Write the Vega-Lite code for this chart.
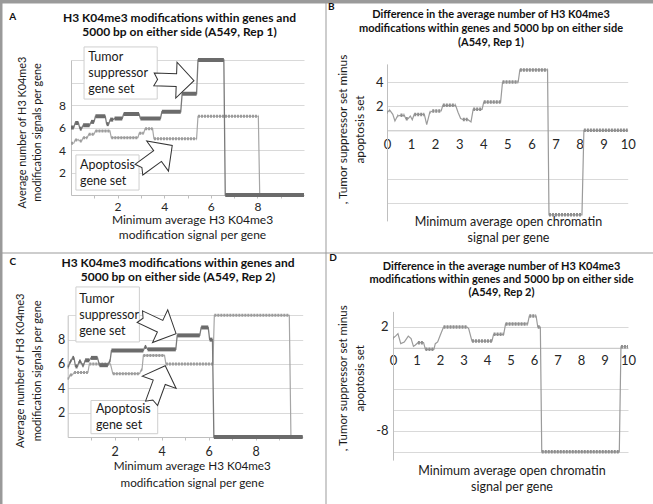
{
  "$schema": "https://vega.github.io/schema/vega-lite/v6.json",
  "background": "#9a9a9a",
  "padding": {"left": 1, "top": 1, "right": 1, "bottom": 1},
  "config": {
    "font": "Lato",
    "view": {"fill": "white", "stroke": "transparent"},
    "axis": {"labelFont": "Lato", "titleFont": "Lato", "labelColor": "#262626", "titleColor": "#1a1a1a", "titleFontWeight": "normal", "domainColor": "#bfbfbf", "gridColor": "#d9d9d9", "tickColor": "#bfbfbf", "labelFlush": false, "labelOverlap": false},
    "title": {"font": "Lato", "fontSize": 12, "fontWeight": "bold", "color": "#111111", "anchor": "middle", "frame": "group", "lineHeight": 14}
  },
  "datasets": {
    "aTum": [{"s":0,"e":0.12,"v":6.0},{"s":0.18,"e":0.32,"v":6.4},{"s":0.38,"e":0.46,"v":5.9},{"s":0.52,"e":0.8,"v":6.2},{"s":0.86,"e":0.99,"v":6.5},{"s":1.05,"e":1.47,"v":7.0},{"s":1.53,"e":1.62,"v":6.3},{"s":1.68,"e":1.81,"v":6.7},{"s":1.87,"e":2.2,"v":6.8},{"s":2.26,"e":2.92,"v":7.2},{"s":2.98,"e":3.84,"v":6.8},{"s":3.9,"e":4.71,"v":7.4},{"s":4.77,"e":5.39,"v":9.0},{"s":5.45,"e":6.56,"v":12.0},{"s":6.62,"e":10,"v":0}],
    "aApo": [{"s":0,"e":0.12,"v":4.6},{"s":0.18,"e":0.32,"v":4.9},{"s":0.38,"e":0.46,"v":4.8},{"s":0.52,"e":0.7,"v":5.1},{"s":0.76,"e":0.99,"v":5.4},{"s":1.05,"e":1.67,"v":5.7},{"s":1.73,"e":2.87,"v":5.1},{"s":2.93,"e":3.12,"v":5.5},{"s":3.18,"e":3.5,"v":5.9},{"s":3.56,"e":5.39,"v":5.0},{"s":5.45,"e":8.04,"v":7.0},{"s":8.1,"e":10,"v":0}],
    "bDiff": [{"s":0,"e":0.02,"v":1.5},{"s":0.1,"e":0.12,"v":1.65},{"s":0.24,"e":0.24,"v":1.32},{"s":0.33,"e":0.33,"v":0.77},{"s":0.44,"e":0.46,"v":1.2},{"s":0.56,"e":0.72,"v":1.24},{"s":0.78,"e":0.88,"v":0.96},{"s":0.97,"e":0.97,"v":1.18},{"s":1.05,"e":1.05,"v":0.88},{"s":1.13,"e":1.55,"v":1.32},{"s":1.65,"e":1.65,"v":0.47},{"s":1.78,"e":1.8,"v":1.5},{"s":1.88,"e":2.25,"v":1.6},{"s":2.32,"e":2.85,"v":2.07},{"s":2.95,"e":2.95,"v":1.5},{"s":3.06,"e":3.06,"v":0.98},{"s":3.15,"e":3.35,"v":0.9},{"s":3.49,"e":3.49,"v":0.7},{"s":3.58,"e":3.95,"v":1.74},{"s":4.02,"e":4.72,"v":2.34},{"s":4.8,"e":5.45,"v":4.0},{"s":5.52,"e":6.67,"v":5.0},{"s":6.73,"e":8.1,"v":-7.0},{"s":8.18,"e":10,"v":0}],
    "cTum": [{"s":0,"e":0.04,"v":5.8},{"s":0.1,"e":0.14,"v":6.2},{"s":0.2,"e":0.27,"v":6.5},{"s":0.33,"e":0.42,"v":5.8},{"s":0.48,"e":0.56,"v":6.2},{"s":0.62,"e":0.68,"v":5.9},{"s":0.74,"e":0.92,"v":6.3},{"s":0.99,"e":1.27,"v":6.5},{"s":1.35,"e":1.71,"v":5.9},{"s":1.77,"e":1.8,"v":6.2},{"s":1.86,"e":3.22,"v":7.1},{"s":3.28,"e":3.34,"v":7.4},{"s":3.4,"e":4.6,"v":7.2},{"s":4.66,"e":5.62,"v":8.35},{"s":5.68,"e":5.98,"v":9.0},{"s":6.04,"e":6.16,"v":8.0},{"s":6.22,"e":10,"v":0}],
    "cApo": [{"s":0,"e":0.04,"v":4.8},{"s":0.1,"e":0.2,"v":5.1},{"s":0.27,"e":0.86,"v":5.3},{"s":0.92,"e":1.82,"v":6.0},{"s":1.92,"e":3.06,"v":5.2},{"s":3.12,"e":3.16,"v":5.5},{"s":3.22,"e":4.12,"v":6.7},{"s":4.18,"e":6.18,"v":6.0},{"s":6.24,"e":9.43,"v":10.0},{"s":9.5,"e":10,"v":0}],
    "dDiff": [{"s":0,"e":0.02,"v":0.94},{"s":0.14,"e":0.14,"v":1.2},{"s":0.21,"e":0.21,"v":1.36},{"s":0.33,"e":0.33,"v":0.4},{"s":0.48,"e":0.48,"v":0.56},{"s":0.65,"e":0.65,"v":1.13},{"s":0.77,"e":0.77,"v":0.88},{"s":0.87,"e":0.87,"v":0.14},{"s":0.94,"e":0.94,"v":0.24},{"s":1.06,"e":1.3,"v":0.49},{"s":1.38,"e":1.74,"v":-0.15},{"s":1.8,"e":1.8,"v":0.4},{"s":1.9,"e":1.9,"v":0.56},{"s":2.01,"e":2.01,"v":1.2},{"s":2.15,"e":3.15,"v":2.0},{"s":3.22,"e":3.22,"v":1.84},{"s":3.36,"e":4.21,"v":0.65},{"s":4.28,"e":4.71,"v":1.3},{"s":4.79,"e":5.73,"v":2.3},{"s":5.8,"e":6.09,"v":3.06},{"s":6.16,"e":6.27,"v":2.0},{"s":6.33,"e":9.63,"v":-10.0},{"s":9.7,"e":10,"v":0.1}]
  },
  "columns": 2,
  "spacing": 1,
  "bounds": "flush",
  "concat": [
    {
      "width": 323, "height": 249,
      "title": {"text": ["H3 K04me3 modifications within genes and", "5000 bp on either side (A549, Rep 1)"], "offset": -36, "dx": 16},
      "layer": [
        {
          "data": {"name": "aApo"},
          "transform": [{"fold": ["s", "e"], "as": ["k", "pos"]}],
          "mark": {"type": "line", "color": "#a6a6a6", "strokeWidth": 1.2},
          "encoding": {
            "x": {"field": "pos", "type": "quantitative", "scale": {"domain": [0, 10], "range": [69, 302], "nice": false, "zero": false},
              "axis": {"title": ["Minimum average H3 K04me3", "modification signal per gene"], "values": [1,2,3,4,5,6,7,8,9], "tickCount": 20, "format": "d", "labelExpr": "datum.value % 2 == 0 ? datum.label : ''", "labelOverlap": false, "labelFlush": false, "offset": -57, "grid": false, "ticks": true, "tickSize": 3, "labelPadding": 3, "labelFontSize": 12, "titleFontSize": 12, "titleLineHeight": 14.3, "titleBaseline": "top", "titleAlign": "center", "titleX": 190, "titleY": 19.8}},
            "y": {"field": "v", "type": "quantitative", "scale": {"domain": [0, 12], "range": [192, 57], "nice": false, "zero": false},
              "axis": {"title": ["Average number of H3 K04me3", "modification signals per gene"], "values": [2,4,6,8,10,12], "tickCount": 20, "format": "d", "labelExpr": "datum.value <= 8 ? datum.label : ''", "labelOverlap": false, "offset": -69, "ticks": false, "labelPadding": 5.5, "labelFontSize": 12, "grid": true, "titleFontSize": 10.9, "titleLineHeight": 15, "titleAngle": -90, "titleBaseline": "top", "titleAlign": "center", "titleX": -54.6, "titleY": 129}}
          }
        },
        {
          "data": {"name": "aApo"},
          "mark": {"type": "rule", "color": "#9c9c9c", "strokeWidth": 3, "strokeDash": [2, 1]},
          "encoding": {"x": {"field": "s", "type": "quantitative"}, "x2": {"field": "e"}, "y": {"field": "v", "type": "quantitative"}}
        },
        {
          "data": {"name": "aTum"},
          "transform": [{"fold": ["s", "e"], "as": ["k", "pos"]}],
          "mark": {"type": "line", "color": "#7a7a7a", "strokeWidth": 1.3},
          "encoding": {"x": {"field": "pos", "type": "quantitative"}, "y": {"field": "v", "type": "quantitative"}}
        },
        {
          "data": {"name": "aTum"},
          "mark": {"type": "rule", "color": "#6b6b6b", "strokeWidth": 4},
          "encoding": {"x": {"field": "s", "type": "quantitative"}, "x2": {"field": "e"}, "y": {"field": "v", "type": "quantitative"}}
        },
        {
          "data": {"values": [{"x1": 0.56, "x2": 3.7, "y1": 13.16, "y2": 8.53}, {"x1": 0.21, "x2": 2.92, "y1": 3.56, "y2": 0.44}]},
          "mark": {"type": "rect", "fill": "white", "stroke": "#cfcfcf", "strokeWidth": 1},
          "encoding": {"x": {"field": "x1", "type": "quantitative"}, "x2": {"field": "x2"}, "y": {"field": "y1", "type": "quantitative"}, "y2": {"field": "y2"}}
        },
        {
          "data": {"values": [{"x": 0.74, "y": 12.84, "t": "Tumor\nsuppressor\ngene set"}, {"x": 0.39, "y": 3.24, "t": "Apoptosis\ngene set"}]},
          "mark": {"type": "text", "align": "left", "baseline": "top", "fontSize": 12.5, "lineHeight": 16, "lineBreak": "\n", "color": "#1a1a1a"},
          "encoding": {"x": {"field": "x", "type": "quantitative"}, "y": {"field": "y", "type": "quantitative"}, "text": {"field": "t"}}
        },
        {
          "data": {"values": [{"x": 4.42, "y": 10.22}]},
          "mark": {"type": "point", "shape": "M -1 -0.32 L 0.12 -0.32 L 0.12 -0.9 L 1 0 L 0.12 0.9 L 0.12 0.32 L -1 0.32 L -0.82 0 Z", "size": 1600, "angle": 2, "fill": "white", "stroke": "#333333", "strokeWidth": 1, "opacity": 1},
          "encoding": {"x": {"field": "x", "type": "quantitative"}, "y": {"field": "y", "type": "quantitative"}}
        },
        {
          "data": {"values": [{"x": 3.63, "y": 3.33}]},
          "mark": {"type": "point", "shape": "M -1 -0.32 L 0.12 -0.32 L 0.12 -0.9 L 1 0 L 0.12 0.9 L 0.12 0.32 L -1 0.32 L -0.82 0 Z", "size": 1700, "angle": -36, "fill": "white", "stroke": "#333333", "strokeWidth": 1, "opacity": 1},
          "encoding": {"x": {"field": "x", "type": "quantitative"}, "y": {"field": "y", "type": "quantitative"}}
        },
        {
          "data": {"values": [{"x": -2.65, "y": 15.82, "t": "A"}]},
          "mark": {"type": "text", "align": "left", "baseline": "middle", "fontSize": 10, "fontWeight": "bold", "color": "#111111"},
          "encoding": {"x": {"field": "x", "type": "quantitative"}, "y": {"field": "y", "type": "quantitative"}, "text": {"field": "t"}}
        }
      ]
    },
    {
      "width": 327, "height": 249,
      "title": {"text": ["Difference in the average number of H3 K04me3", "modifications within genes and 5000 bp on either side", "(A549, Rep 1)"], "offset": -46, "dx": 1.5, "fontSize": 11},
      "layer": [
        {
          "data": {"name": "bDiff"},
          "transform": [{"fold": ["s", "e"], "as": ["k", "pos"]}],
          "mark": {"type": "line", "color": "#9b9b9b", "strokeWidth": 1.2},
          "encoding": {
            "x": {"field": "pos", "type": "quantitative", "scale": {"domain": [0, 10], "range": [61, 301.7], "nice": false, "zero": false},
              "axis": {"title": ["Minimum average open chromatin", "signal per gene"], "values": [0,1,2,3,4,5,6,7,8,9,10], "tickCount": 20, "format": "d", "labelOverlap": false, "labelFlush": false, "offset": -121.7, "grid": false, "ticks": false, "labelPadding": 8, "labelFontSize": 13, "titleFontSize": 12.5, "titleLineHeight": 15.6, "titleBaseline": "top", "titleAlign": "center", "titleX": 182, "titleY": 85.5}},
            "y": {"field": "v", "type": "quantitative", "scale": {"domain": [-7.5, 5.5], "range": [217.9, 60.9], "nice": false, "zero": false},
              "axis": {"title": [", Tumor suppressor set minus", "apoptosis set"], "values": [-6,-4,2,4], "tickCount": 20, "format": "d", "labelExpr": "datum.value > 0 ? datum.label : ''", "labelOverlap": false, "offset": -61, "ticks": false, "labelPadding": 4, "labelFontSize": 13, "grid": true, "titleFontSize": 11.8, "titleLineHeight": 16.6, "titleAngle": -90, "titleBaseline": "top", "titleAlign": "center", "titleX": -49.5, "titleY": 126}}
          }
        },
        {
          "data": {"name": "bDiff"},
          "mark": {"type": "rule", "color": "#8f8f8f", "strokeWidth": 3.5, "strokeDash": [2, 1]},
          "encoding": {"x": {"field": "s", "type": "quantitative"}, "x2": {"field": "e"}, "y": {"field": "v", "type": "quantitative"}}
        },
        {
          "data": {"values": [{"x": -2.45, "y": 10.2, "t": "B"}]},
          "mark": {"type": "text", "align": "left", "baseline": "middle", "fontSize": 10, "fontWeight": "bold", "color": "#111111"},
          "encoding": {"x": {"field": "x", "type": "quantitative"}, "y": {"field": "y", "type": "quantitative"}, "text": {"field": "t"}}
        }
      ]
    },
    {
      "width": 323, "height": 252,
      "title": {"text": ["H3 K04me3 modifications within genes and", "5000 bp on either side (A549, Rep 2)"], "offset": -31, "dx": 14.5},
      "layer": [
        {
          "data": {"name": "cApo"},
          "transform": [{"fold": ["s", "e"], "as": ["k", "pos"]}],
          "mark": {"type": "line", "color": "#a6a6a6", "strokeWidth": 1.2},
          "encoding": {
            "x": {"field": "pos", "type": "quantitative", "scale": {"domain": [0, 10], "range": [65.7, 300.7], "nice": false, "zero": false},
              "axis": {"title": ["Minimum average H3 K04me3", "modification signal per gene"], "values": [1,2,3,4,5,6,7,8,9], "tickCount": 20, "format": "d", "labelExpr": "datum.value % 2 == 0 ? datum.label : ''", "labelOverlap": false, "labelFlush": false, "offset": -68, "grid": false, "ticks": true, "tickSize": 3, "labelPadding": 5.5, "labelFontSize": 12.5, "titleFontSize": 11.7, "titleLineHeight": 16.6, "titleBaseline": "top", "titleAlign": "center", "titleX": 189.8, "titleY": 23.5}},
            "y": {"field": "v", "type": "quantitative", "scale": {"domain": [0, 10], "range": [184, 62.3], "nice": false, "zero": false},
              "axis": {"title": ["Average number of H3 K04me3", "modification signals per gene"], "values": [2,4,6,8,10], "tickCount": 20, "format": "d", "labelExpr": "datum.value <= 8 ? datum.label : ''", "labelOverlap": false, "offset": -65.7, "ticks": false, "labelPadding": 3, "labelFontSize": 12.5, "grid": true, "titleFontSize": 11.1, "titleLineHeight": 16.7, "titleAngle": -90, "titleBaseline": "top", "titleAlign": "center", "titleX": -53.1, "titleY": 117.3}}
          }
        },
        {
          "data": {"name": "cApo"},
          "mark": {"type": "rule", "color": "#9c9c9c", "strokeWidth": 3, "strokeDash": [2, 1]},
          "encoding": {"x": {"field": "s", "type": "quantitative"}, "x2": {"field": "e"}, "y": {"field": "v", "type": "quantitative"}}
        },
        {
          "data": {"name": "cTum"},
          "transform": [{"fold": ["s", "e"], "as": ["k", "pos"]}],
          "mark": {"type": "line", "color": "#7a7a7a", "strokeWidth": 1.3},
          "encoding": {"x": {"field": "pos", "type": "quantitative"}, "y": {"field": "v", "type": "quantitative"}}
        },
        {
          "data": {"name": "cTum"},
          "mark": {"type": "rule", "color": "#6b6b6b", "strokeWidth": 4},
          "encoding": {"x": {"field": "s", "type": "quantitative"}, "x2": {"field": "e"}, "y": {"field": "v", "type": "quantitative"}}
        },
        {
          "data": {"values": [{"x1": 0.35, "x2": 3.05, "y1": 12.33, "y2": 7.81}, {"x1": 0.99, "x2": 3.83, "y1": 3.0, "y2": 0.27}]},
          "mark": {"type": "rect", "fill": "white", "stroke": "#cfcfcf", "strokeWidth": 1},
          "encoding": {"x": {"field": "x1", "type": "quantitative"}, "x2": {"field": "x2"}, "y": {"field": "y1", "type": "quantitative"}, "y2": {"field": "y2"}}
        },
        {
          "data": {"values": [{"x": 0.49, "y": 11.82, "t": "Tumor\nsuppressor\ngene set"}, {"x": 1.2, "y": 2.8, "t": "Apoptosis\ngene set"}]},
          "mark": {"type": "text", "align": "left", "baseline": "top", "fontSize": 12.5, "lineHeight": 16, "lineBreak": "\n", "color": "#1a1a1a"},
          "encoding": {"x": {"field": "x", "type": "quantitative"}, "y": {"field": "y", "type": "quantitative"}, "text": {"field": "t"}}
        },
        {
          "data": {"values": [{"x": 3.84, "y": 9.19}]},
          "mark": {"type": "point", "shape": "M -1 -0.32 L 0.12 -0.32 L 0.12 -0.9 L 1 0 L 0.12 0.9 L 0.12 0.32 L -1 0.32 L -0.82 0 Z", "size": 1600, "angle": 25, "fill": "white", "stroke": "#333333", "strokeWidth": 1, "opacity": 1},
          "encoding": {"x": {"field": "x", "type": "quantitative"}, "y": {"field": "y", "type": "quantitative"}}
        },
        {
          "data": {"values": [{"x": 3.86, "y": 4.31}]},
          "mark": {"type": "point", "shape": "M -1 -0.32 L 0.12 -0.32 L 0.12 -0.9 L 1 0 L 0.12 0.9 L 0.12 0.32 L -1 0.32 L -0.82 0 Z", "size": 1600, "angle": -70, "fill": "white", "stroke": "#333333", "strokeWidth": 1, "opacity": 1},
          "encoding": {"x": {"field": "x", "type": "quantitative"}, "y": {"field": "y", "type": "quantitative"}}
        },
        {
          "data": {"values": [{"x": -2.48, "y": 14.35, "t": "C"}]},
          "mark": {"type": "text", "align": "left", "baseline": "middle", "fontSize": 10, "fontWeight": "bold", "color": "#111111"},
          "encoding": {"x": {"field": "x", "type": "quantitative"}, "y": {"field": "y", "type": "quantitative"}, "text": {"field": "t"}}
        }
      ]
    },
    {
      "width": 327, "height": 252,
      "title": {"text": ["Difference in the average number of H3 K04me3", "modifications within genes and 5000 bp on either side", "(A549, Rep 2)"], "offset": -45.5, "dx": 12, "fontSize": 11, "lineHeight": 13.4},
      "layer": [
        {
          "data": {"name": "dDiff"},
          "transform": [{"fold": ["s", "e"], "as": ["k", "pos"]}],
          "mark": {"type": "line", "color": "#9b9b9b", "strokeWidth": 1.2},
          "encoding": {
            "x": {"field": "pos", "type": "quantitative", "scale": {"domain": [0, 10], "range": [67, 302], "nice": false, "zero": false},
              "axis": {"title": ["Minimum average open chromatin", "signal per gene"], "values": [0,1,2,3,4,5,6,7,8,9,10], "tickCount": 20, "format": "d", "labelOverlap": false, "labelFlush": false, "offset": -157.2, "grid": false, "ticks": false, "labelPadding": 7, "labelFontSize": 13, "titleFontSize": 12.5, "titleLineHeight": 16, "titleBaseline": "top", "titleAlign": "center", "titleX": 185.5, "titleY": 117}},
            "y": {"field": "v", "type": "quantitative", "scale": {"domain": [-10.8, 3.5], "range": [207.1, 58.4], "nice": false, "zero": false},
              "axis": {"title": [", Tumor suppressor set minus", "apoptosis set"], "values": [-10,-8,-6,-4,2], "tickCount": 20, "format": "d", "labelExpr": "datum.value == 2 ? '2' : datum.value == -8 ? '-8' : ''", "labelOverlap": false, "offset": -67, "ticks": false, "labelPadding": 5, "labelFontSize": 13, "grid": true, "titleFontSize": 11.5, "titleLineHeight": 16.6, "titleAngle": -90, "titleBaseline": "top", "titleAlign": "center", "titleX": -55.5, "titleY": 124.8}}
          }
        },
        {
          "data": {"name": "dDiff"},
          "mark": {"type": "rule", "color": "#8f8f8f", "strokeWidth": 3.5, "strokeDash": [2, 1]},
          "encoding": {"x": {"field": "s", "type": "quantitative"}, "x2": {"field": "e"}, "y": {"field": "v", "type": "quantitative"}}
        },
        {
          "data": {"values": [{"x": -2.71, "y": 8.63, "t": "D"}]},
          "mark": {"type": "text", "align": "left", "baseline": "middle", "fontSize": 10, "fontWeight": "bold", "color": "#111111"},
          "encoding": {"x": {"field": "x", "type": "quantitative"}, "y": {"field": "y", "type": "quantitative"}, "text": {"field": "t"}}
        }
      ]
    }
  ]
}
